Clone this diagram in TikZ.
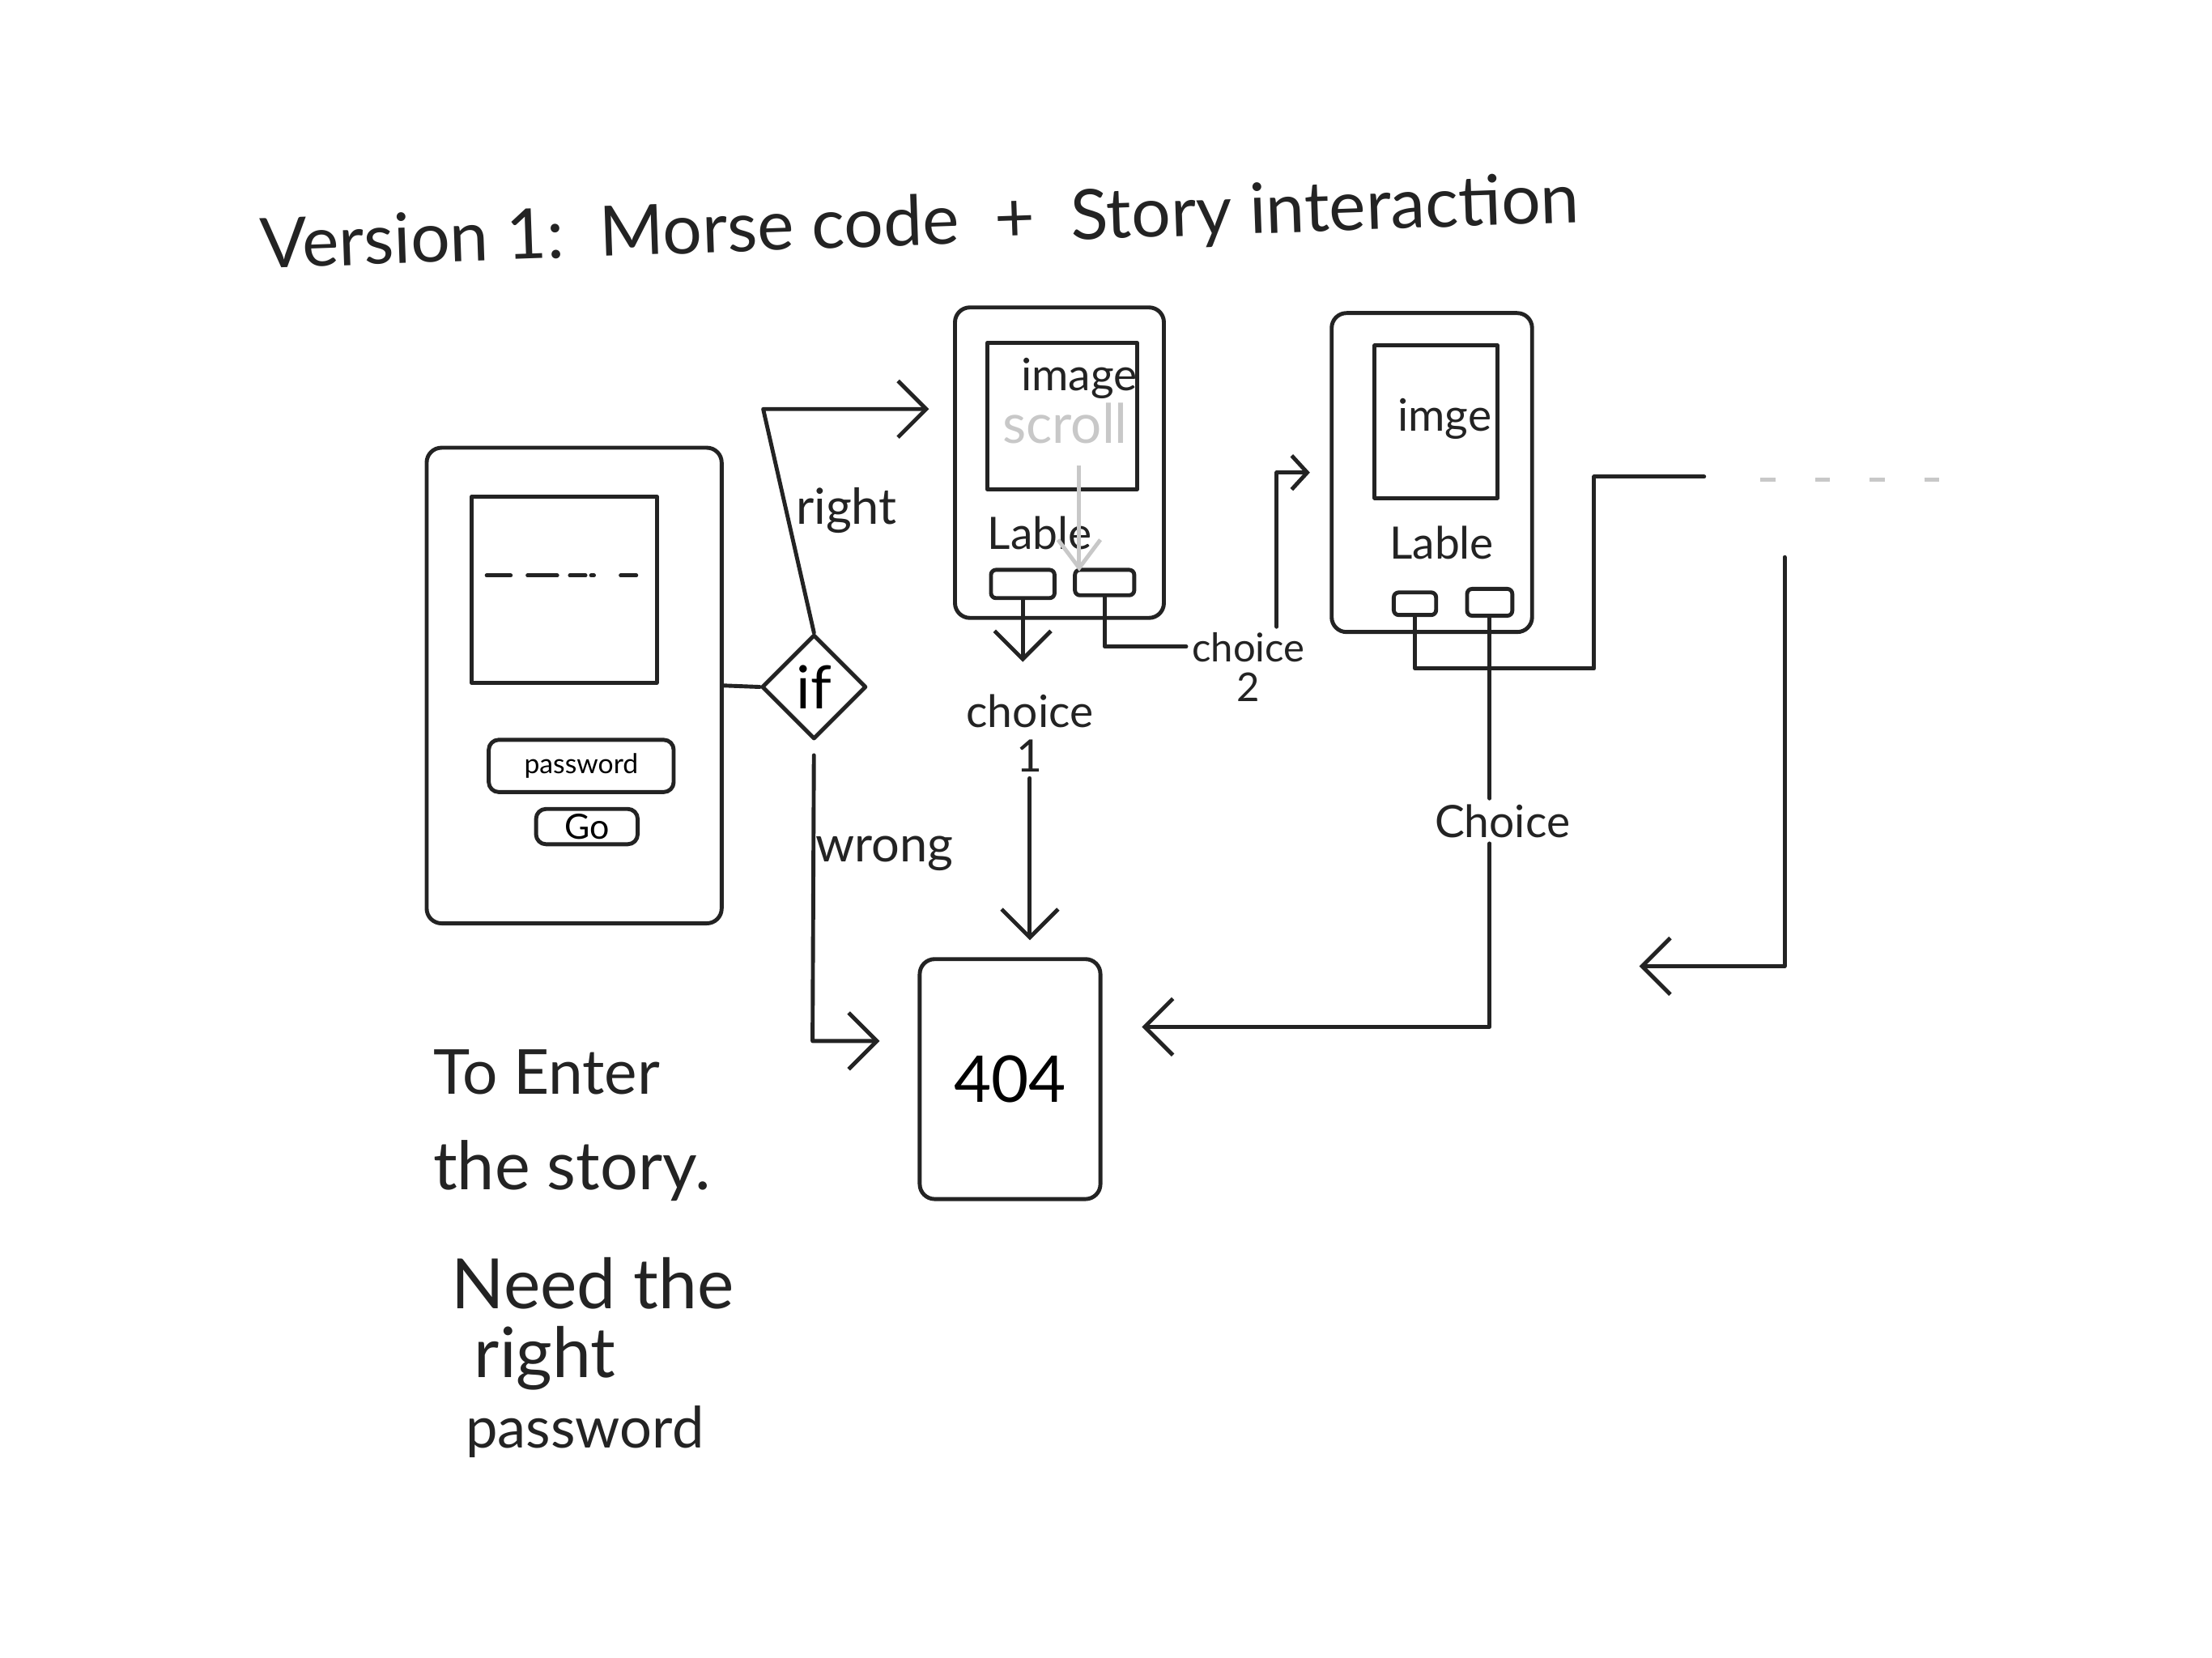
\documentclass[tikz,border=0pt]{standalone}
\usepackage{fontspec}
\setmainfont{Lato}
\usetikzlibrary{arrows.meta,shapes.geometric,positioning}
\definecolor{pencil}{RGB}{35,35,35}
\definecolor{faint}{RGB}{200,200,200}
\tikzstyle{pencil} = [line width=0.8pt, draw=pencil, line cap=round, line join=round]
\tikzstyle{arrow} = [pencil, ->, >={Straight Barb[length=2mm,width=4mm]}]
\tikzstyle{phone} = [rectangle, pencil, rounded corners=3pt, inner sep=0pt]
\tikzstyle{hand} = [text=pencil, inner sep=1pt]
\newcommand{\fs}[1]{\fontsize{#1}{#1}\selectfont}

\begin{document}
\begin{tikzpicture}[x=0.01cm, y=-0.01cm]
\useasboundingbox[fill=white] (0,0) rectangle (1568,1175);

% Title
\node (title) [hand, font=\fs{14}, rotate=2] at (652,160) {Version 1:\ \ Morse code \ + \ Story interaction};

% Login screen
\node (ph1) [phone, minimum width=2.09cm, minimum height=3.37cm] at (407,486) {};
\node (scr1) [phone, rounded corners=0pt, minimum width=1.31cm, minimum height=1.32cm] at (400,418) {};
\foreach \a/\b in {345/362, 374/395, 404/415, 419/421, 440/451}
  \draw[pencil] (\a,408) -- (\b,408);
\node (pwd) [phone, rounded corners=2pt, minimum width=1.31cm, minimum height=0.37cm, font=\fs{5.5}] at (412,543) {password};
\node (go) [phone, rounded corners=2pt, minimum width=0.72cm, minimum height=0.25cm, font=\fs{7}] at (416,586) {Go};

% Decision
\node (if) [diamond, pencil, minimum size=0.74cm, inner sep=0pt, font=\fs{12}] at (577,487) {if};
\node (lright) [hand, font=\fs{10}] at (600,362) {right};
\node (lwrong) [hand, font=\fs{10}] at (627,605) {wrong};

% Story page 1
\node (ph2) [phone, minimum width=1.48cm, minimum height=2.20cm] at (751,328) {};
\node (img2) [phone, rounded corners=0pt, minimum width=1.06cm, minimum height=1.04cm] at (753,295) {};
\node (limg2) [hand, font=\fs{9}] at (765,268) {image};
\node (scroll) [text=faint, font=\fs{11}] at (755,300) {scroll};
\node (lbl2) [hand, font=\fs{9}] at (737,378) {Lable};
\node (b21) [phone, rounded corners=1pt, minimum width=0.45cm, minimum height=0.20cm] at (725,414) {};
\node (b22) [phone, rounded corners=1pt, minimum width=0.42cm, minimum height=0.18cm] at (783,413) {};
\node (c1) [hand, align=center, font=\fs{9}] at (730,520) {choice\\1};
\node (c2) [hand, align=center, font=\fs{8}] at (885,473) {choice\\2};

% Story page 2
\node (ph3) [phone, minimum width=1.42cm, minimum height=2.26cm] at (1015,335) {};
\node (img3) [phone, rounded corners=0pt, minimum width=0.87cm, minimum height=1.08cm] at (1018,299) {};
\node (limg3) [hand, font=\fs{9}] at (1024,297) {imge};
\node (lbl3) [hand, font=\fs{9}] at (1022,385) {Lable};
\node (b31) [phone, rounded corners=1pt, minimum width=0.30cm, minimum height=0.16cm] at (1003,428) {};
\node (b32) [phone, rounded corners=1pt, minimum width=0.32cm, minimum height=0.19cm] at (1056,427) {};
\node (ch) [hand, font=\fs{9}] at (1065,582) {Choice};

% Dead end
\node (n404) [phone, minimum width=1.28cm, minimum height=1.70cm, font=\fs{13}] at (716,765) {404};

% Notes
\node (note1) [hand, anchor=west, font=\fs{12.5}] at (303,760) {To Enter};
\node (note2) [hand, anchor=west, font=\fs{13.5}] at (303,830) {the story.};
\node (note3) [hand, anchor=west, font=\fs{14}] at (316,910) {Need the};
\node (note4) [hand, anchor=west, font=\fs{14}] at (332,963) {right};
\node (note5) [hand, anchor=west, font=\fs{11.5}] at (326,1015) {password};

% Connectors
\coordinate (rbend) at (541,290);
\coordinate (wbend) at (576,738);
\coordinate (stop) at (765,330);
\coordinate (sbot) at (765,405);
\coordinate (next) at (1208,338);
\coordinate (more) at (1248,340);
\coordinate (backtop) at (1265,395);
\coordinate (backend) at (1162,685);

\draw[pencil] (ph1.east) -- (if.west);
\draw[arrow, shorten >=1.7mm] (if.north) -- (rbend) -- (rbend -| ph2.west);
\draw[arrow, shorten <=1mm, shorten >=2.7mm] (if.south) -- (wbend) -- (wbend -| n404.west);
\draw[faint, line width=0.8pt, ->, >={Straight Barb[length=2mm,width=3mm]}] (stop) -- (sbot);
\draw[arrow, shorten >=1.9mm] (b21.south) -- (b21.south |- c1.north);
\draw[arrow, shorten >=1.2mm] (c1.south) -- (c1.south |- n404.north);
\draw[pencil] (b22.south) |- ([yshift=-1.4mm]c2.north west);
\draw[arrow, >={Straight Barb[length=1.1mm,width=2.4mm]}, shorten >=1.4mm] ([xshift=2mm]c2.north) |- (ph3.west);
\draw[pencil] (b31.south) |- (1130,474) |- (next);
\draw[faint, line width=0.8pt, dash pattern=on 3pt off 8pt] (more) -- ++(132,0);
\draw[pencil] (b32.south) -- (b32.south |- ch.north);
\draw[arrow, shorten >=2.8mm] (b32.south |- ch.south) |- ([yshift=3.7mm]n404.east);
\draw[arrow] (backtop) |- (backend);
\end{tikzpicture}
\end{document}
